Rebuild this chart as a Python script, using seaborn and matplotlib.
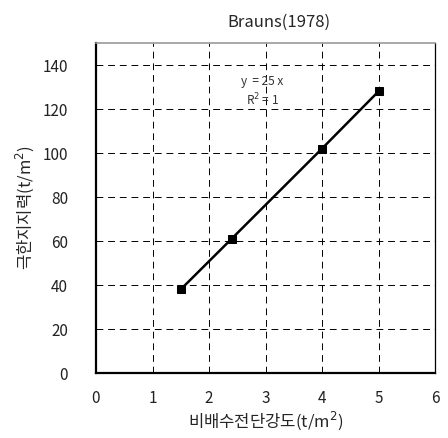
import matplotlib
matplotlib.use("Agg")
import matplotlib.pyplot as plt
import seaborn as sns
import pandas as pd

# Undrained shear strength vs. ultimate bearing capacity (Brauns, 1978)
strength = [1.5, 2.4, 4.0, 5.0]
capacity = [38, 61, 102, 128]
x_ticks = [0, 1, 2, 3, 4, 5, 6]
y_ticks = [0, 20, 40, 60, 80, 100, 120, 140]

df = pd.DataFrame({"strength": strength, "capacity": capacity})

sns.set_style("white")
plt.rcParams["font.family"] = ["Noto Sans CJK KR", "DejaVu Sans"]

fig = plt.figure(figsize=(4.48, 4.38), dpi=100)
ax = fig.add_axes([96 / 448, 1 - 373 / 438, (435 - 96) / 448, (373 - 43) / 438])

sns.lineplot(data=df, x="strength", y="capacity", ax=ax, color="black",
             linewidth=1.8, marker="s", markersize=6, markeredgecolor="black",
             markerfacecolor="black")

ax.set_xlim(0, 6)
ax.set_ylim(0, 150)
ax.set_xticks(x_ticks)
ax.set_yticks(y_ticks)
ax.grid(True, color="black", linestyle=(0, (7, 5)), linewidth=0.7)
ax.tick_params(direction="in", length=5, width=0.8, colors="black",
               labelsize=11, labelcolor="#222222")
ax.tick_params(axis="y", pad=20)
ax.tick_params(axis="x", pad=12)

for side in ("left", "bottom"):
    ax.spines[side].set_color("black")
    ax.spines[side].set_linewidth(1.6)
ax.spines["top"].set_color("#999999")
ax.spines["top"].set_linewidth(1.2)
ax.spines["right"].set_color("black")
ax.spines["right"].set_linewidth(0.9)

ax.set_xlabel("비배수전단강도(t/m$^2$)", fontsize=12, labelpad=2)
ax.set_ylabel("극한지지력(t/m$^2$)", fontsize=12, labelpad=5)
ax.set_title("Brauns(1978)", fontsize=12, x=0.54, pad=12)

ax.text(0.49, 0.882, "y  = 25 x", transform=ax.transAxes, fontsize=8.5,
        ha="center", va="center", color="#333333")
ax.text(0.49, 0.827, "R$^2$ = 1", transform=ax.transAxes, fontsize=8.5,
        ha="center", va="center", color="#333333")

fig.savefig("out.png", dpi=100)
